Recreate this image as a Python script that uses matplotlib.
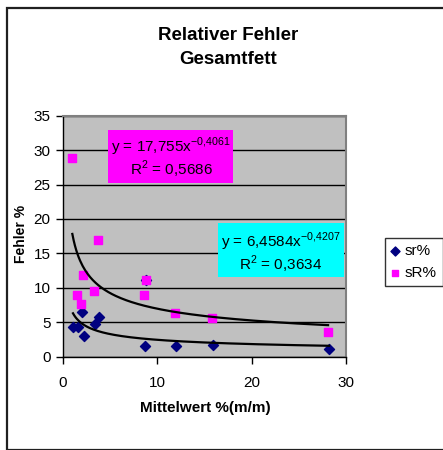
import numpy as np
import matplotlib
matplotlib.use("Agg")
import matplotlib.pyplot as plt
from matplotlib.patches import Rectangle

plt.rcParams['font.family'] = ['Liberation Sans', 'DejaVu Sans']

# sr% data (blue diamonds)
sr_x = [1.06, 1.59, 2.0, 2.23, 3.36, 3.79, 8.78, 8.7, 11.96, 15.86, 28.2]
sr_y = [4.36, 4.36, 6.44, 3.0, 4.7, 5.76, 11.1, 1.55, 1.55, 1.7, 1.06]
# sR% data (magenta squares)
sR_x = [0.99, 1.52, 1.91, 2.12, 3.29, 3.72, 8.6, 8.78, 11.9, 15.8, 28.1]
sR_y = [28.85, 8.9, 7.7, 11.86, 9.58, 16.9, 8.9, 11.1, 6.3, 5.57, 3.53]

# trendline coefficients (as displayed)
sr_a, sr_b = 6.4584, -0.4207
sR_a, sR_b = 17.755, -0.4061

W, H = 443, 450
fig = plt.figure(figsize=(W / 100, H / 100), dpi=100)

# outer chart border
fig.patches.append(Rectangle((6.5 / W, 0), 1, 1 - 7.5 / H, transform=fig.transFigure,
                             fill=False, edgecolor='#202020', linewidth=1.6))

ax = fig.add_axes([63 / W, 1 - 356.7 / H, (346 - 63) / W, (356.7 - 115.7) / H])
ax.set_facecolor('#C0C0C0')
ax.set_xlim(0, 30)
ax.set_ylim(0, 35)
ax.set_xticks([0, 10, 20, 30])
ax.set_yticks(range(0, 36, 5))
ax.yaxis.grid(True, color='black', linewidth=1.0)
ax.set_axisbelow(True)
for s in ['top', 'right']:
    ax.spines[s].set_color('#808080')
    ax.spines[s].set_linewidth(1.5)
for s in ['left', 'bottom']:
    ax.spines[s].set_color('black')
    ax.spines[s].set_linewidth(1.0)
ax.tick_params(direction='out', length=5, width=1, labelsize=11)
ax.tick_params(axis='x', pad=9)
ax.tick_params(axis='y', pad=4)

ax.scatter(sr_x, sr_y, marker='D', s=26, color='#000080', zorder=3, label='sr%')
ax.scatter(sR_x, sR_y, marker='s', s=30, color='#FF00FF', zorder=3, label='sR%')

xs = np.linspace(min(sr_x), max(sr_x), 200)
ax.plot(xs, sr_a * xs ** sr_b, color='black', linewidth=1.6, zorder=4)
xs2 = np.linspace(min(sR_x), max(sR_x), 200)
ax.plot(xs2, sR_a * xs2 ** sR_b, color='black', linewidth=1.6, zorder=4)

fig.text(21 / W, 1 - 234 / H, 'Fehler %', rotation=90, ha='center', va='center',
         fontsize=10, fontweight='bold')
fig.text(205 / W, 1 - 408 / H, 'Mittelwert %(m/m)', ha='center', va='center',
         fontsize=11, fontweight='bold')

# equation boxes
def fig_box(x0, y0, x1, y1, color):
    fig.patches.append(Rectangle((x0 / W, 1 - y1 / H), (x1 - x0) / W, (y1 - y0) / H,
                                 transform=fig.transFigure, facecolor=color,
                                 edgecolor='none', zorder=5))

fig_box(108, 130, 233, 183, '#FF00FF')
fig.text(171 / W, 1 - 147 / H, r'y = 17,755x$^{\mathregular{-0{,}4061}}$', ha='center', va='center',
         fontsize=11, zorder=6)
fig.text(171 / W, 1 - 169 / H, r'R$^{\mathregular{2}}$ = 0,5686', ha='center', va='center',
         fontsize=11, zorder=6)

fig_box(218, 223, 344, 277, '#00FFFF')
fig.text(281 / W, 1 - 242 / H, r'y = 6,4584x$^{\mathregular{-0{,}4207}}$', ha='center', va='center',
         fontsize=11, zorder=6)
fig.text(281 / W, 1 - 264 / H, r'R$^{\mathregular{2}}$ = 0,3634', ha='center', va='center',
         fontsize=11, zorder=6)

fig.text(228 / W, 1 - 36 / H, 'Relativer Fehler', ha='center', va='center',
         fontsize=13.5, fontweight='bold')
fig.text(228 / W, 1 - 60 / H, 'Gesamtfett', ha='center', va='center',
         fontsize=13.5, fontweight='bold')

leg = fig.legend(loc='upper left', bbox_to_anchor=(385 / W, 1 - 238 / H),
                 frameon=True, fancybox=False, fontsize=11, handlelength=0.5,
                 handletextpad=0.4, borderpad=0.4, labelspacing=0.5,
                 markerscale=0.9, borderaxespad=0)
leg.get_frame().set_edgecolor('black')
leg.get_frame().set_linewidth(1.0)

fig.savefig('out.png', dpi=100)
